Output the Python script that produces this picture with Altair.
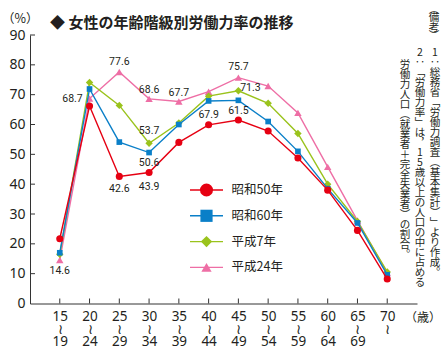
import json
import altair as alt
import pandas as pd

# ---------------- data ----------------
ages_from = ["15", "20", "25", "30", "35", "40", "45", "50", "55", "60", "65", "70"]
ages_to = ["19", "24", "29", "34", "39", "44", "49", "54", "59", "64", "69", ""]
series_names = ["昭和50年", "昭和60年", "平成7年", "平成24年"]
showa50 = [21.7, 66.2, 42.6, 43.9, 54.0, 59.9, 61.5, 57.8, 48.8, 38.0, 24.5, 8.2]
showa60 = [17.0, 71.9, 54.1, 50.6, 60.0, 67.9, 68.1, 61.0, 51.0, 38.5, 27.0, 9.6]
heisei7 = [16.5, 74.1, 66.4, 53.7, 60.5, 69.5, 71.3, 67.1, 57.0, 40.0, 27.5, 10.6]
heisei24 = [14.6, 68.7, 77.6, 68.6, 67.7, 71.0, 75.7, 72.9, 63.9, 45.8, 27.8, 10.2]
y_ticks = [0, 10, 20, 30, 40, 50, 60, 70, 80, 90]
title_text = "◆ 女性の年齢階級別労働力率の推移"
y_unit = "（%）"
x_unit = "（歳）"
note_head = "（備考）"
note_lines = [
    "1‥総務省「労働力調査（基本集計）」より作成。",
    "2‥「労働力率」は，15歳以上の人口の中に占める",
    "労働力人口（就業者＋完全失業者）の割合。",
]

# ---------------- styling ----------------
W, H = 387, 268.5
TXT = "#231f20"
AX = "#333333"
colors = ["#e60012", "#0a7fc8", "#9ac31c", "#ee6ea5"]
shapes = ["circle", "square", "diamond", "triangle-up"]
pt_sizes = [50, 32, 55, 55]
lg_sizes = [170, 105, 190, 210]
CJK = "Noto Sans CJK JP"
NUM = "Liberation Sans Narrow, Roboto, sans-serif"

values = [showa50, showa60, heisei7, heisei24]

x_scale = alt.Scale(domain=[-1, 12], nice=False, zero=False)
y_scale = alt.Scale(domain=[0, 90], nice=False, zero=True)

label_expr = ("[" + json.dumps(ages_from, ensure_ascii=False) + "[datum.value], '≀', "
              + json.dumps(ages_to, ensure_ascii=False) + "[datum.value]]")

xaxis = alt.Axis(values=list(range(12)), labelExpr=label_expr, ticks=False, grid=False,
                 domainColor=AX, domainWidth=1, labelFont="Noto Sans", labelFontSize=13.5,
                 labelColor=TXT, labelPadding=6, labelBaseline="top", labelLineHeight=12.5,
                 labelAngle=0, labelAlign="center", labelOverlap=False, labelFlush=False,
                 title=None)
yaxis = alt.Axis(values=y_ticks, ticks=False, grid=False, domainColor=AX, domainWidth=1,
                 labelFont="Noto Sans", labelFontSize=14, labelColor=TXT, labelPadding=5,
                 labelOverlap=False, labelFlush=False, title=None)

X = lambda f: alt.X(f, scale=x_scale, axis=xaxis)
Y = lambda f: alt.Y(f, scale=y_scale, axis=yaxis)

layers = []

# inward ticks
xt = pd.DataFrame({"i": list(range(12))})
layers.append(alt.Chart(xt).mark_rule(color=AX, strokeWidth=1).encode(
    x=X("i:Q"), y=alt.value(H), y2=alt.value(H - 5)))
yt = pd.DataFrame({"t": y_ticks[1:]})
layers.append(alt.Chart(yt).mark_rule(color=AX, strokeWidth=1).encode(
    y=Y("t:Q"), x=alt.value(0), x2=alt.value(5)))

# series: draw pink, green, blue, red (red on top)
for k in [3, 2, 1, 0]:
    df = pd.DataFrame({"i": list(range(12)), "v": values[k]})
    base = alt.Chart(df).encode(x=X("i:Q"), y=Y("v:Q"))
    layers.append(base.mark_line(color=colors[k], strokeWidth=1.4))
    layers.append(base.mark_point(shape=shapes[k], filled=True, size=pt_sizes[k],
                                  color=colors[k], opacity=1))

# value labels: (series, index, dx, dy)
label_specs = [
    (3, 0, 0, 11), (3, 1, -17, 0), (3, 2, 0, -10), (3, 3, 0, -9), (3, 4, 0, -9), (3, 6, 0, -11),
    (2, 3, 0, -12), (2, 6, 12, -3),
    (1, 3, 0, 10), (1, 5, 0, 14),
    (0, 2, 0, 13), (0, 3, 0, 14), (0, 6, 0, -9),
]
for s, i, dx, dy in label_specs:
    v = values[s][i]
    df = pd.DataFrame({"i": [i], "v": [v], "t": [f"{v:.1f}"]})
    layers.append(alt.Chart(df).mark_text(font=NUM, fontSize=10.5, color=TXT, dx=dx, dy=dy,
                                          align="center", baseline="middle").encode(
        x=X("i:Q"), y=Y("v:Q"), text="t:N"))

main = alt.layer(*layers)

# ---------------- pixel-positioned decorations ----------------
deco = []
# legend
lg = pd.DataFrame({"name": series_names})
lg["ly"] = [155.0 + 25.8 * k for k in range(len(series_names))]
cscale = alt.Scale(domain=series_names, range=colors)
sscale = alt.Scale(domain=series_names, range=shapes)
zscale = alt.Scale(domain=series_names, range=lg_sizes)
LY = alt.Y("ly:Q", scale=None, axis=None)
deco.append(alt.Chart(lg).mark_rule(strokeWidth=1.4).encode(
    x=alt.value(160), x2=alt.value(193), y=LY,
    color=alt.Color("name:N", scale=cscale, legend=None)))
deco.append(alt.Chart(lg).mark_point(filled=True, opacity=1).encode(
    x=alt.value(176.5), y=LY,
    color=alt.Color("name:N", scale=cscale, legend=None),
    shape=alt.Shape("name:N", scale=sscale, legend=None),
    size=alt.Size("name:N", scale=zscale, legend=None)))
deco.append(alt.Chart(lg).mark_text(align="left", baseline="middle", font=CJK, fontSize=12.5,
                                    color=TXT).encode(x=alt.value(201.5), y=LY, text="name:N"))

# title and units
def label_layer(text, x, y, size, align="left", weight="normal", font=CJK):
    d = pd.DataFrame({"t": [text]})
    return alt.Chart(d).mark_text(align=align, baseline="middle", font=font, fontSize=size,
                                  fontWeight=weight, color=TXT).encode(
        x=alt.value(x), y=alt.value(y), text="t:N")

deco.append(label_layer(title_text, 20, -12, 15, weight="bold"))
deco.append(label_layer(y_unit, -28, -16, 12.5))
deco.append(label_layer(x_unit, 375, 283, 12))

# vertical notes
vert = {"「": "﹁", "」": "﹂", "（": "︵", "）": "︶", "，": "︐", "。": "︒", "、": "︑"}
EM = 10.0
rows = []
cols = [(note_head, 404, -28, True), (note_lines[0], 405, 13, False),
        (note_lines[1], 390, 13, False), (note_lines[2], 375, 25, False)]
for text, cx, y0, tight in cols:
    y = y0
    for ch in text:
        a = 0.6 if (tight and ch in "（）") else 1.0
        rows.append({"ch": vert.get(ch, ch), "px": cx, "py": y + a * EM / 2})
        y += a * EM
nd = pd.DataFrame(rows)
deco.append(alt.Chart(nd).mark_text(align="center", baseline="middle", font=CJK, fontSize=10.5,
                                    color=TXT).encode(
    x=alt.X("px:Q", scale=None, axis=None), y=alt.Y("py:Q", scale=None, axis=None),
    text="ch:N"))

decor = alt.layer(*deco)

chart = alt.layer(main, decor).resolve_scale(x="independent", y="independent").properties(
    width=W, height=H,
    autosize=alt.AutoSizeParams(type="none"),
    padding={"left": 30, "top": 35, "right": 26, "bottom": 46.5},
    background="white",
).configure_view(stroke=None)

chart.save("out.html", embed_options={"renderer": "svg", "actions": False})
